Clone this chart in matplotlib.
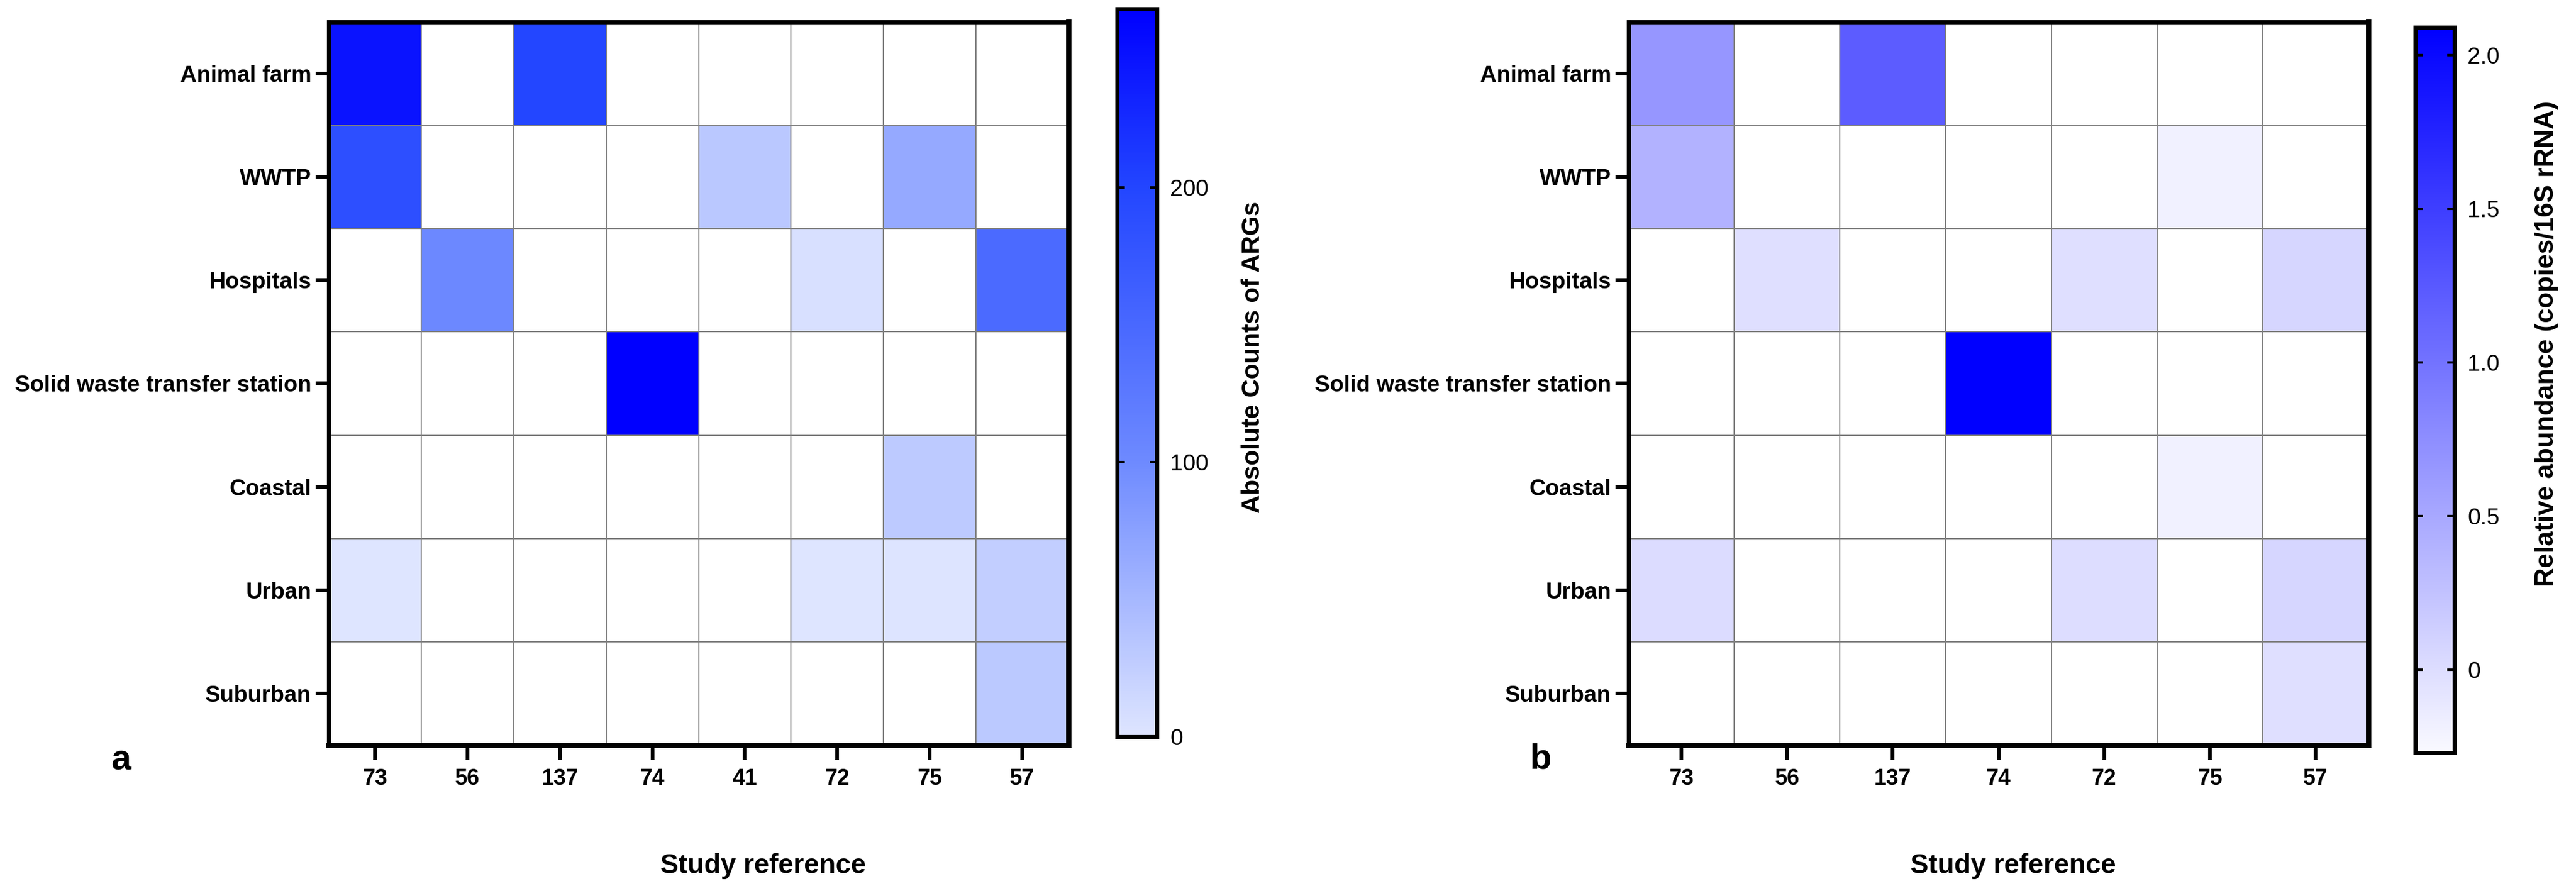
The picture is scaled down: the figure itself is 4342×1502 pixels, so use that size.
import numpy as np
import matplotlib.pyplot as plt
from matplotlib.colors import LinearSegmentedColormap

plt.rcParams['font.family'] = ['Liberation Sans', 'DejaVu Sans']

sites = ['Animal farm', 'WWTP', 'Hospitals', 'Solid waste transfer station',
         'Coastal', 'Urban', 'Suburban']

# panel a: absolute counts of ARGs (nan = no data)
refs_a = ['73', '56', '137', '74', '41', '72', '75', '57']
counts = np.array([
    [247, np.nan, 199, np.nan, np.nan, np.nan, np.nan, np.nan],
    [187, np.nan, np.nan, np.nan, 33, np.nan, 66, np.nan],
    [np.nan, 103, np.nan, np.nan, np.nan, 6, np.nan, 146],
    [np.nan, np.nan, np.nan, 265, np.nan, np.nan, np.nan, np.nan],
    [np.nan, np.nan, np.nan, np.nan, np.nan, np.nan, 29, np.nan],
    [1, np.nan, np.nan, np.nan, np.nan, 1, 2, 25],
    [np.nan, np.nan, np.nan, np.nan, np.nan, np.nan, np.nan, 32],
])

# panel b: relative abundance (copies/16S rRNA)
refs_b = ['73', '56', '137', '74', '72', '75', '57']
rel = np.array([
    [0.67, np.nan, 1.22, np.nan, np.nan, np.nan, np.nan],
    [0.41, np.nan, np.nan, np.nan, np.nan, -0.19, np.nan],
    [np.nan, -0.02, np.nan, np.nan, -0.02, np.nan, 0.07],
    [np.nan, np.nan, np.nan, 2.09, np.nan, np.nan, np.nan],
    [np.nan, np.nan, np.nan, np.nan, np.nan, -0.19, np.nan],
    [0.01, np.nan, np.nan, np.nan, 0.0, np.nan, 0.07],
    [np.nan, np.nan, np.nan, np.nan, np.nan, np.nan, -0.02],
])

cmap_a = LinearSegmentedColormap.from_list('blues_a', [
    (0.0, (222/255, 229/255, 1.0)),
    (0.377, (110/255, 138/255, 1.0)),
    (0.755, (35/255, 70/255, 1.0)),
    (1.0, (0.0, 0.0, 1.0))])
cmap_a.set_bad('white')
cmap_b = LinearSegmentedColormap.from_list('blues_b', [(249/255, 249/255, 1.0), (0.0, 0.0, 1.0)])
cmap_b.set_bad('white')

fig = plt.figure(figsize=(43.42, 15.02), dpi=100)


def heat(rect, crect, data, refs, cmap, vmin, vmax, ticks, ticklabels, cblabel, cbx, cby, cbsize):
    ax = fig.add_axes(rect)
    m = ax.pcolormesh(np.ma.masked_invalid(data), cmap=cmap, vmin=vmin, vmax=vmax,
                      edgecolors='#808080', linewidth=1.2)
    ax.set_xlim(0, data.shape[1])
    ax.set_ylim(data.shape[0], 0)
    ax.set_xticks(np.arange(data.shape[1]) + 0.5)
    ax.set_xticklabels(refs, fontweight='bold')
    ax.set_yticks(np.arange(data.shape[0]) + 0.5)
    ax.set_yticklabels(sites, fontweight='bold')
    ax.tick_params(axis='x', length=18, width=4.5, pad=10, labelsize=27)
    ax.tick_params(axis='y', length=16, width=4.5, pad=5, labelsize=27.5)
    for s in ax.spines.values():
        s.set_linewidth(5)
    ax.spines['right'].set_linewidth(6.5)
    ax.spines['bottom'].set_linewidth(6.5)
    cax = fig.add_axes(crect)
    cb = fig.colorbar(m, cax=cax)
    cb.set_ticks(ticks)
    cb.set_ticklabels(ticklabels)
    cb.outline.set_linewidth(5)
    cax.tick_params(direction='in', left=True, right=True, length=9, width=3,
                    labelsize=28, pad=16)
    fig.text(cbx, cby, cblabel, rotation=90, ha='center', va='center',
             fontsize=cbsize, fontweight='bold')
    return ax


heat([0.1276, 0.1638, 0.2872, 0.8116], [0.4337, 0.1731, 0.0154, 0.8169],
     counts, refs_a, cmap_a, 0, 265, [0, 100, 200], ['0', '100', '200'],
     'Absolute Counts of ARGs', 0.4864, 0.599, 31)
heat([0.6322, 0.1638, 0.2872, 0.8116], [0.9376, 0.1551, 0.0152, 0.8143],
     rel, refs_b, cmap_b, -0.27, 2.09, [0, 0.5, 1.0, 1.5, 2.0],
     ['0', '0.5', '1.0', '1.5', '2.0'],
     'Relative abundance (copies/16S rRNA)', 0.9885, 0.614, 32)

fig.text(0.2962, 0.028, 'Study reference', ha='center', va='center', fontsize=33, fontweight='bold')
fig.text(0.7815, 0.028, 'Study reference', ha='center', va='center', fontsize=33, fontweight='bold')
fig.text(0.047, 0.1465, 'a', ha='center', va='center', fontsize=43, fontweight='bold')
fig.text(0.598, 0.148, 'b', ha='center', va='center', fontsize=43, fontweight='bold')

fig.savefig('out.png', dpi=100)
